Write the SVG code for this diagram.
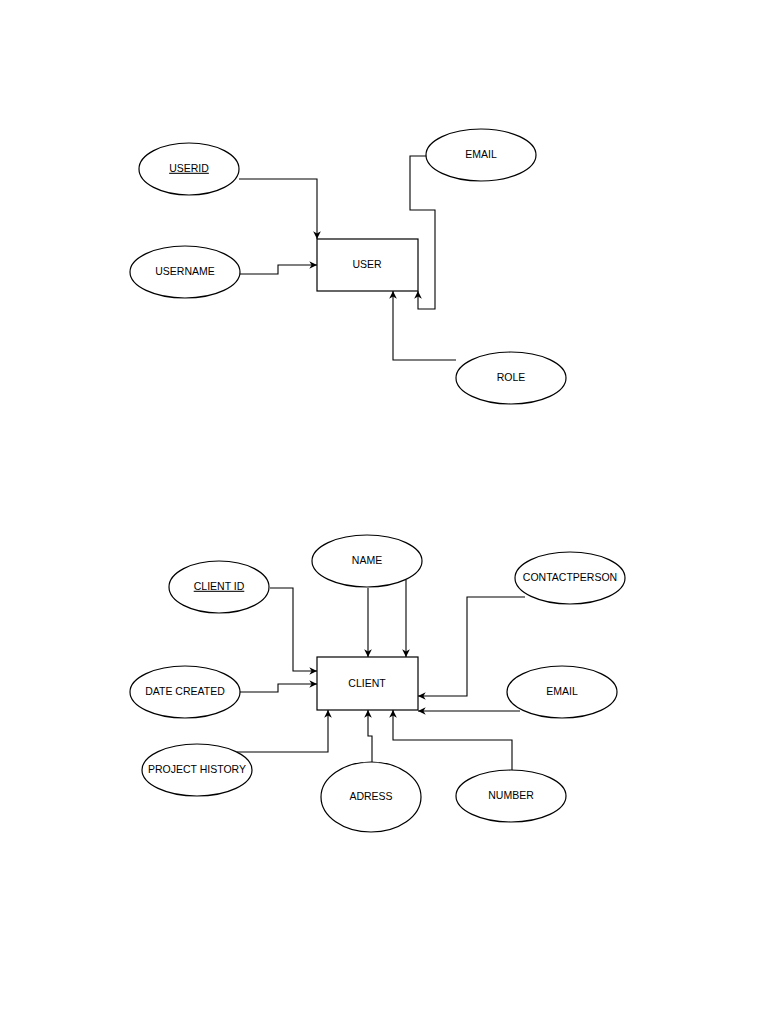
<svg xmlns="http://www.w3.org/2000/svg" width="768" height="1024" viewBox="0 0 768 1024">
<style>
.s{fill:#fff;stroke:#000;stroke-width:1.2}
.t{font-family:"Liberation Sans",Arial,sans-serif;font-size:10.5px;text-anchor:middle;dominant-baseline:middle;fill:#000}
.c{fill:none;stroke:#000;stroke-width:1.1;marker-end:url(#a)}
</style>
<defs><marker id="a" viewBox="0 0 10 10" refX="10" refY="5" markerWidth="7" markerHeight="7" orient="auto"><path d="M0,0L10,5L0,10L3,5z" fill="#000"/></marker></defs>
<rect width="768" height="1024" fill="#fff"/>
<g id="connectors">
<path class="c" d="M239,179H317V239"/>
<path class="c" d="M240,274H278V265H317"/>
<path class="c" d="M427,156H410V210H435V309H418V291"/>
<path class="c" d="M456,360H393V291"/>
<path class="c" d="M270,588H293V671H317"/>
<path class="c" d="M368,588V657"/>
<path class="c" d="M406,580V657"/>
<path class="c" d="M525,597H467V696H418"/>
<path class="c" d="M240,692H278V684H317"/>
<path class="c" d="M520,711H418"/>
<path class="c" d="M237,752H328V710"/>
<path class="c" d="M372,762V736H368V710"/>
<path class="c" d="M512,771V740H393V710"/>
</g>
<g id="user"><rect class="s" x="317" y="239" width="101" height="52"/><text class="t" x="367" y="265">USER</text></g>
<g id="userid"><ellipse class="s" cx="189" cy="169" rx="50" ry="26"/><text class="t" x="189" y="169" text-decoration="underline">USERID</text></g>
<g id="username"><ellipse class="s" cx="185" cy="272" rx="55" ry="26"/><text class="t" x="185" y="272">USERNAME</text></g>
<g id="email1"><ellipse class="s" cx="481" cy="155" rx="55" ry="26"/><text class="t" x="481" y="155">EMAIL</text></g>
<g id="role"><ellipse class="s" cx="511" cy="378" rx="55" ry="26"/><text class="t" x="511" y="378">ROLE</text></g>
<g id="client"><rect class="s" x="317" y="657" width="101" height="53"/><text class="t" x="367" y="684">CLIENT</text></g>
<g id="clientid"><ellipse class="s" cx="219" cy="587" rx="50" ry="26"/><text class="t" x="219" y="587" text-decoration="underline">CLIENT ID</text></g>
<g id="name"><ellipse class="s" cx="367" cy="561" rx="55" ry="26"/><text class="t" x="367" y="561">NAME</text></g>
<g id="contactperson"><ellipse class="s" cx="570" cy="578" rx="55" ry="26"/><text class="t" x="570" y="578">CONTACTPERSON</text></g>
<g id="datecreated"><ellipse class="s" cx="185" cy="692" rx="55" ry="26"/><text class="t" x="185" y="692">DATE CREATED</text></g>
<g id="email2"><ellipse class="s" cx="562" cy="692" rx="55" ry="26"/><text class="t" x="562" y="692">EMAIL</text></g>
<g id="projecthistory"><ellipse class="s" cx="197" cy="770" rx="55" ry="26"/><text class="t" x="197" y="770">PROJECT HISTORY</text></g>
<g id="adress"><ellipse class="s" cx="371" cy="797" rx="50" ry="35"/><text class="t" x="371" y="797">ADRESS</text></g>
<g id="number"><ellipse class="s" cx="511" cy="796" rx="55" ry="26"/><text class="t" x="511" y="796">NUMBER</text></g>
</svg>
